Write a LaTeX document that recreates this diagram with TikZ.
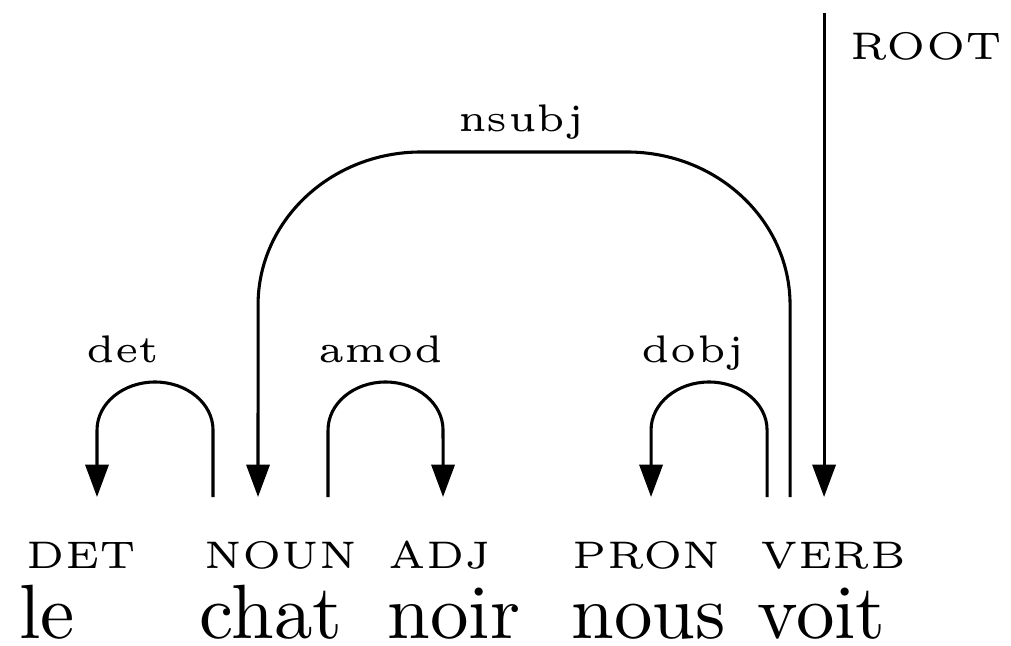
\documentclass[tikz,border=0pt]{standalone}
\usetikzlibrary{arrows.meta}
\begin{document}
\begin{tikzpicture}[x=1pt,y=1pt,scale=0.13,
  word/.style={inner sep=0pt,anchor=base west,font=\fontsize{10}{12}\selectfont},
  tag/.style={inner sep=0pt,anchor=base west,font=\fontsize{5}{6}\selectfont},
  rel/.style={inner sep=0pt,anchor=base,font=\fontsize{5}{6}\selectfont},
  dep/.style={line width=0.4pt,-{Triangle[length=4.2pt,width=3pt]}}]
\useasboundingbox (0,0) rectangle (1011,645);
% words and their tags
\node[word] (w1) at (18,7) {le};
\node[word] (w2) at (198,7) {chat};
\node[word] (w3) at (386,7) {noir};
\node[word] (w4) at (570,7) {nous};
\node[word] (w5) at (756,7) {voit};
\node[tag] (t1) at (25,77) {DET};
\node[tag] (t2) at (203,77) {NOUN};
\node[tag] (t3) at (387,77) {ADJ};
\node[tag] (t4) at (571,77) {PRON};
\node[tag] (t5) at (759,77) {VERB};
% edge end points above the tags
\coordinate (le-in) at (97,148);
\coordinate (chat-out) at (213,148);
\coordinate (chat-in) at (258,148);
\coordinate (chat-mod) at (328,148);
\coordinate (noir-in) at (443,148);
\coordinate (nous-in) at (651,148);
\coordinate (voit-obj) at (767,148);
\coordinate (voit-subj) at (790,148);
\coordinate (voit-in) at (824,148);
\coordinate (root) at (824,632);
% arcs
\draw[dep] (chat-out) -- ++(0,67) arc[start angle=0,end angle=180,x radius=58pt,y radius=48pt] -- (le-in);
\draw[dep] (chat-mod) -- ++(0,67) arc[start angle=180,end angle=0,x radius=57.5pt,y radius=48pt] -- (noir-in);
\draw[dep] (voit-obj) -- ++(0,67) arc[start angle=0,end angle=180,x radius=58pt,y radius=48pt] -- (nous-in);
\draw[dep] (voit-subj) -- ++(0,192) arc[start angle=0,end angle=90,x radius=163pt,y radius=153pt]
  -- ++(-206,0) arc[start angle=90,end angle=180,x radius=163pt,y radius=153pt] -- (chat-in);
\draw[dep] (root) -- (voit-in);
% relation labels
\node[rel] (l1) at (123,283) {det};
\node[rel] (l2) at (381,283) {amod};
\node[rel] (l3) at (693,283) {dobj};
\node[rel] (l4) at (521,513) {nsubj};
\node[tag] (l5) at (849,585) {ROOT};
\end{tikzpicture}
\end{document}
